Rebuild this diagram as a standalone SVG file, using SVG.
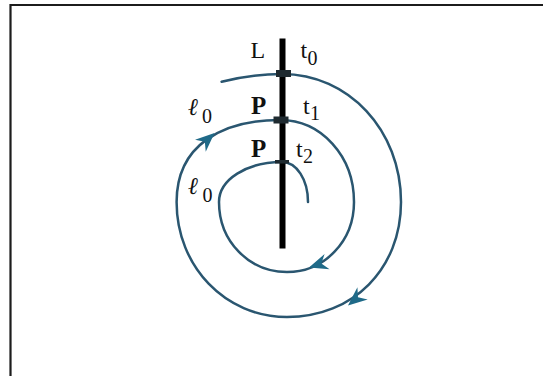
<svg xmlns="http://www.w3.org/2000/svg" width="543" height="376" viewBox="0 0 543 376">
  <style>
    .frame { fill: none; stroke: #1c1c1c; stroke-width: 2.2; }
    .spiral { fill: none; stroke: #2a5670; stroke-width: 2.5; stroke-linecap: round; }
    .head { fill: #1f6a88; }
    .tick { fill: #1f2a30; }
    text { font-family: "Liberation Serif", "Times New Roman", serif; fill: #111; }
    .lbl { font-size: 24px; }
    .sub { font-size: 20px; }
    .bold { font-weight: bold; font-size: 25px; }
  </style>
  <defs>
    <path id="arrowhead" d="M0,0 L-19,-8 L-13,0 L-19,8 Z"/>
  </defs>
  <rect width="543" height="376" fill="#ffffff"/>
  <g id="frame">
    <path class="frame" d="M10.5,380 L10.5,5 L545,5"/>
  </g>
  <g id="connectors">
    <path id="spiral" class="spiral" d="M221.6,81.7 C240,77 262,74 282,74
      C348.6,74 401,130.3 401,202
      C401,268.7 353.1,317 287,317
      C225.2,317 176.6,266.4 176.6,202
      C176.6,145 222,120 280,120
      C321.4,120 354,156.1 354,202
      C354,241.2 324.5,272 287,272
      C248.9,272 219,241.2 219,202
      C219,179.6 246.7,162 282,162
      C296.6,162 308,179.6 308,202"/>
    <use href="#arrowhead" class="head" transform="translate(214.5,133) rotate(-42)"/>
    <use href="#arrowhead" class="head" transform="translate(309,267.5) rotate(162)"/>
    <use href="#arrowhead" class="head" transform="translate(348,305.5) rotate(140)"/>
  </g>
  <g id="line-L">
    <line x1="282.5" y1="38.5" x2="282.5" y2="248.5" stroke="#000" stroke-width="6"/>
    <rect class="tick" x="276" y="70" width="15" height="7"/>
    <rect class="tick" x="273.5" y="116.5" width="15" height="7"/>
    <rect class="tick" x="275" y="160" width="14" height="3.5"/>
  </g>
  <g id="label-L"><text class="lbl" x="250.5" y="58.3">L</text></g>
  <g id="label-t0"><text class="lbl" x="300.5" y="58.3">t</text><text class="sub" x="307.5" y="64.5">0</text></g>
  <g id="label-P1"><text class="lbl bold" x="251" y="114">P</text></g>
  <g id="label-t1"><text class="lbl" x="303" y="114">t</text><text class="sub" x="310" y="119.5">1</text></g>
  <g id="label-P2"><text class="lbl bold" x="251" y="157">P</text></g>
  <g id="label-t2"><text class="lbl" x="296" y="157">t</text><text class="sub" x="303" y="163">2</text></g>
  <g id="label-l0-upper"><text class="lbl" x="188" y="115" font-style="italic">ℓ</text><text class="sub" x="202" y="122.5">0</text></g>
  <g id="label-l0-lower"><text class="lbl" x="188" y="194" font-style="italic">ℓ</text><text class="sub" x="202.5" y="201.5">0</text></g>
</svg>
